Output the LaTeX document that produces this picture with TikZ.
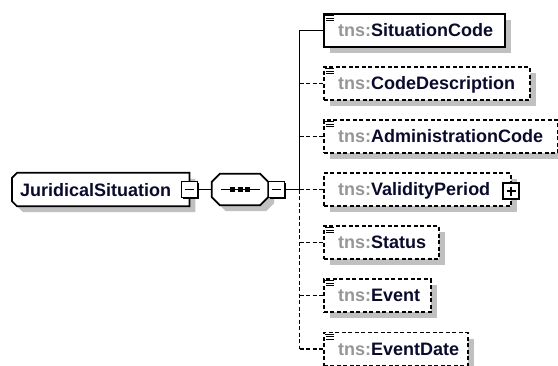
\documentclass[tikz,border=0pt]{standalone}
\usepackage{fontspec}
\setmainfont{Liberation Sans}
\usetikzlibrary{shadows,calc}
\definecolor{tnsgray}{RGB}{150,150,150}
\definecolor{namecol}{RGB}{10,10,45}
\definecolor{shadowgray}{RGB}{192,192,192}
\begin{document}
\begin{tikzpicture}[x=1pt,y=-1pt,
  sh/.style={drop shadow={shadow xshift=6pt,shadow yshift=-6pt,fill=shadowgray,opacity=1}},
  elbox/.style={rectangle,draw=black,fill=white,line width=1.7pt,minimum height=33pt,minimum width=#1,anchor=west,inner sep=0pt,sh},
  optbox/.style={elbox=#1,dash pattern=on 4pt off 2.5pt},
  frame/.style={rectangle,draw=none,inner sep=0pt},
  shapeline/.style={draw=black,fill=white,line width=1.7pt,line join=miter,sh},
  lbl/.style={anchor=base west,inner sep=0pt,font=\fontsize{18}{20}\selectfont\bfseries},
  expbox/.style={rectangle,draw=black,fill=white,line width=1.9pt,minimum size=16pt,inner sep=0pt,
    drop shadow={shadow xshift=1.2pt,shadow yshift=-1.2pt,fill=black,opacity=1}},
  conn/.style={line width=1.7pt},
  dconn/.style={conn,dash pattern=on 4pt off 2.5pt},
  icon/.style={line width=1.2pt}
]
\useasboundingbox (0,0) rectangle (558,365);

% root element
\node[frame,minimum width=177pt,minimum height=33pt,anchor=west] (root) at (12,189.5) {};
\draw[shapeline] ($(root.north west)+(5,0)$) -- (root.north east) -- (root.south east)
   -- ($(root.south west)+(5,0)$) -- ($(root.south west)+(0,-5)$) -- ($(root.north west)+(0,5)$) -- cycle;
\node[lbl] (rootl) at ($(root.west)+(8,6.5)$) {\color{namecol}JuridicalSituation};
\node[expbox] (rm) at (189.5,189.5) {};
\draw[conn] ($(rm.center)+(-4.5,0)$) -- ($(rm.center)+(4.5,0)$);

% sequence compositor
\node[frame,minimum width=56pt,minimum height=31pt] (seq) at (240,189.5) {};
\draw[shapeline] ($(seq.north west)+(8,0)$) -- ($(seq.north east)+(-8,0)$) -- ($(seq.north east)+(0,8)$)
   -- ($(seq.south east)+(0,-8)$) -- ($(seq.south east)+(-8,0)$) -- ($(seq.south west)+(8,0)$)
   -- ($(seq.south west)+(0,-8)$) -- ($(seq.north west)+(0,8)$) -- cycle;
\draw[conn] ($(seq.center)+(-19,0)$) -- ($(seq.center)+(20,0)$);
\foreach \dx in {-7.5,0,7.5}
  \fill ($(seq.center)+(\dx,0)+(-2.5,-2.5)$) rectangle ++(5,5);
\node[expbox] (sm) at (276.5,189.5) {};
\draw[conn] ($(sm.center)+(-4.5,0)$) -- ($(sm.center)+(4.5,0)$);

\coordinate (J) at (299.5,189.5);
\draw[conn] (rm.east) -- (seq.west);
\draw[conn] (sm.east) -- (J);

% children
\node[elbox=181pt] (sc) at (323,30.5) {};
\node[optbox=206pt] (cd) at (323,83.5) {};
\node[optbox=234pt] (ac) at (323,136.5) {};
\node[optbox=187pt] (vp) at (323,189.5) {};
\node[optbox=115pt] (st) at (323,242.5) {};
\node[optbox=107pt] (ev) at (323,295.5) {};
\node[optbox=144pt] (ed) at (323,349) {};

\node[lbl] (scl) at ($(sc.west)+(15,6)$) {{\color{tnsgray}tns:}{\color{namecol}SituationCode}};
\node[lbl] (cdl) at ($(cd.west)+(15,6)$) {{\color{tnsgray}tns:}{\color{namecol}CodeDescription}};
\node[lbl] (acl) at ($(ac.west)+(15,6)$) {{\color{tnsgray}tns:}{\color{namecol}AdministrationCode}};
\node[lbl] (vpl) at ($(vp.west)+(15,6)$) {{\color{tnsgray}tns:}{\color{namecol}ValidityPeriod}};
\node[lbl] (stl) at ($(st.west)+(15,6)$) {{\color{tnsgray}tns:}{\color{namecol}Status}};
\node[lbl] (evl) at ($(ev.west)+(15,6)$) {{\color{tnsgray}tns:}{\color{namecol}Event}};
\node[lbl] (edl) at ($(ed.west)+(15,6)$) {{\color{tnsgray}tns:}{\color{namecol}EventDate}};

% simple-type icons
\foreach \n in {sc,cd,ac,st,ev,ed}{
  \draw[icon] ($(\n.north west)+(2,2.5)$) -- ++(9,0);
  \draw[icon] ($(\n.north west)+(3,5)$) -- ++(8,0);
  \draw[icon] ($(\n.north west)+(3,7.5)$) -- ++(8,0);
}

% expand box of ValidityPeriod
\node[expbox] (vpx) at (511,191) {};
\draw[conn] ($(vpx.center)+(-4.5,0)$) -- ($(vpx.center)+(4.5,0)$);
\draw[conn] ($(vpx.center)+(0,-4.5)$) -- ($(vpx.center)+(0,4.5)$);

% connectors
\draw[conn] (J) -- (J |- sc.west) -- (sc.west);
\draw[dconn] (J) -- (J |- ed.west);
\foreach \n in {cd,ac,vp,st,ev,ed}
  \draw[dconn] (J |- \n.west) -- (\n.west);
\end{tikzpicture}
\end{document}
